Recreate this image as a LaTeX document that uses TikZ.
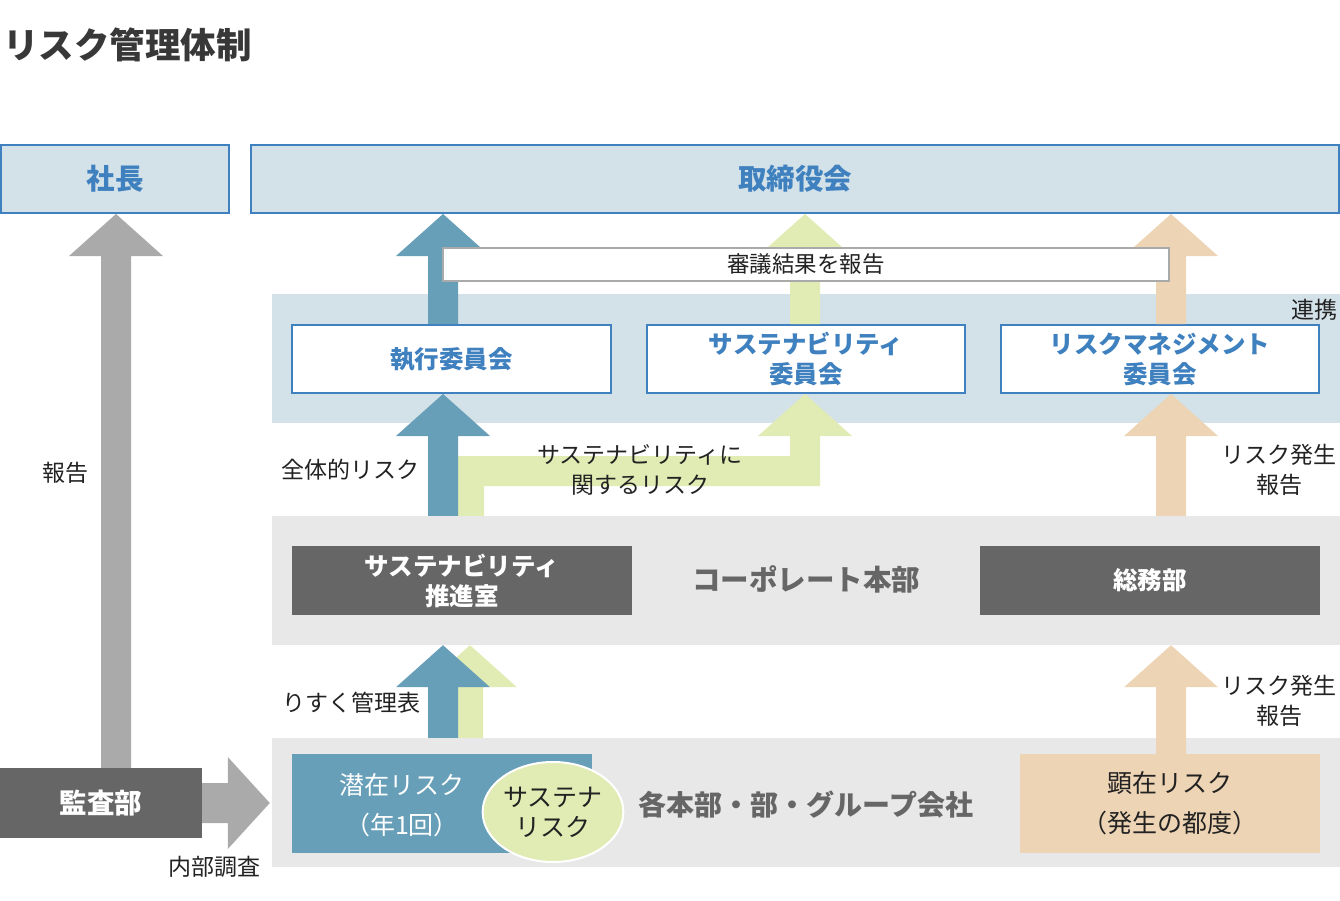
\documentclass[tikz,border=0pt]{standalone}
\usepackage{fontspec}
\setmainfont{Noto Sans CJK JP}
\usetikzlibrary{calc,shapes.geometric}

\definecolor{paleblue}{HTML}{D3E1E8}
\definecolor{boxblue}{HTML}{3F80BF}
\definecolor{steelblue}{HTML}{679EB8}
\definecolor{palegreen}{HTML}{E1EBB4}
\definecolor{sandtan}{HTML}{EDD4B4}
\definecolor{midgray}{HTML}{AAAAAA}
\definecolor{darkunit}{HTML}{666666}
\definecolor{bandgray}{HTML}{E8E8E8}
\definecolor{inktext}{HTML}{222222}

\tikzset{
  topbox/.style={draw=boxblue, line width=2pt, fill=paleblue, text=boxblue,
    inner sep=0pt, font=\fontsize{28.5}{32}\selectfont\bfseries},
  combox/.style={draw=boxblue, line width=2pt, fill=white, text=boxblue,
    inner sep=0pt, align=center, font=\fontsize{24.5}{30}\selectfont\bfseries},
  band/.style={inner sep=0pt},
  unitbox/.style={fill=darkunit, text=white, inner sep=0pt, align=center,
    font=\fontsize{24.5}{30}\selectfont\bfseries},
  lbl/.style={text=inktext, inner sep=0pt, align=center,
    font=\fontsize{23}{30}\selectfont},
  bigname/.style={text=darkunit, inner sep=0pt,
    font=\fontsize{28}{32}\selectfont\bfseries}
}

\newcommand\uparr[4]{%
  \fill[#1] let \p1=(#2), \p2=(#3) in
    (\x1-#4pt,\y1) -- (\x1-#4pt,\y2-42pt) -- (\x1-47pt,\y2-42pt) -- (\x1,\y2)
    -- (\x1+47pt,\y2-42pt) -- (\x1+#4pt,\y2-42pt) -- (\x1+#4pt,\y1) -- cycle;}

\begin{document}
\begin{tikzpicture}[x=1pt,y=-1pt]
  \useasboundingbox (0,0) rectangle (1340,900);

  \node[anchor=west, text=inktext!90, inner sep=0pt,
    font=\fontsize{35.5}{40}\selectfont\bfseries] (title) at (3,45) {リスク管理体制};

  \node[topbox, minimum width=228, minimum height=68] (shacho) at (115,179) {社長};
  \node[topbox, minimum width=1088, minimum height=68] (board) at (795,179) {取締役会};

  \node[band, fill=paleblue, minimum width=1068, minimum height=129] (comband) at (806,358.5) {};
  \node[band, fill=bandgray, minimum width=1068, minimum height=129] (corpband) at (806,580.5) {};
  \node[band, fill=bandgray, minimum width=1068, minimum height=129] (botband) at (806,802.5) {};

  \node[unitbox, minimum width=202, minimum height=70,
    font=\fontsize{27.5}{30}\selectfont\bfseries] (audit) at (101,803) {監査部};

  \uparr{midgray}{116,0 |- audit.north}{116,0 |- shacho.south}{15}
  \fill[midgray] let \p1=(audit.east), \p2=(botband.west) in
    (\x1,\y1-20pt) -- (\x2-44pt,\y1-20pt) -- (\x2-44pt,\y1-46pt) -- (\x2-2pt,\y1)
    -- (\x2-44pt,\y1+46pt) -- (\x2-44pt,\y1+20pt) -- (\x1,\y1+20pt) -- cycle;

  \node[combox, minimum width=319, minimum height=68] (exec) at (451.5,359) {執行委員会};
  \node[combox, minimum width=318, minimum height=68] (susc) at (806,359) {サステナビリティ\\委員会};
  \node[combox, minimum width=318, minimum height=68] (riskc) at (1160,359) {リスクマネジメント\\委員会};

  \uparr{steelblue}{443,0 |- exec.north}{443,0 |- board.south}{15}
  \uparr{palegreen}{805,0 |- susc.north}{805,0 |- board.south}{15}
  \uparr{sandtan}{1171,0 |- riskc.north}{1171,0 |- board.south}{15}

  \node[draw=midgray, line width=2pt, fill=white, inner sep=0pt,
    minimum width=726, minimum height=33, text=inktext,
    font=\fontsize{22.5}{26}\selectfont] (shingi) at (806,264.5) {審議結果を報告};
  \node[lbl, anchor=east] (renkei) at (1338,310) {連携};

  \coordinate (gfoot) at (471,0 |- corpband.north);
  \coordinate (gtip) at (805,0 |- susc.south);
  \fill[palegreen] ($(gfoot)+(-13,0)$) |- ($(gtip)+(-15,62)$) -- ($(gtip)+(-15,42)$)
    -- ($(gtip)+(-47,42)$) -- (gtip) -- ($(gtip)+(47,42)$) -- ($(gtip)+(15,42)$)
    -- ($(gtip)+(15,92)$) -| ($(gfoot)+(13,0)$) -- cycle;
  \uparr{steelblue}{443,0 |- corpband.north}{443,0 |- exec.south}{15}
  \uparr{sandtan}{1171,0 |- corpband.north}{1171,0 |- riskc.south}{15}

  \node[lbl] (zentai) at (350,470) {全体的リスク};
  \node[lbl] (susrisk) at (640,470) {サステナビリティに\\関するリスク};
  \node[lbl] (hassei1) at (1279,470) {リスク発生\\報告};

  \node[unitbox, minimum width=340, minimum height=69] (suishin) at (462,580.5) {サステナビリティ\\推進室};
  \node[bigname, font=\fontsize{28.5}{32}\selectfont\bfseries] (corp) at (806,579) {コーポレート本部};
  \node[unitbox, minimum width=340, minimum height=69] (somu) at (1150,580.5) {総務部};

  \node[band, fill=sandtan, minimum width=300, minimum height=99] (kenzai) at (1170,803.5) {};
  \uparr{palegreen}{470,0 |- botband.north}{470,0 |- corpband.south}{13}
  \uparr{steelblue}{443,0 |- botband.north}{443,0 |- corpband.south}{15}
  \uparr{sandtan}{1171,0 |- kenzai.north}{1171,0 |- corpband.south}{15}

  \node[lbl] (risuku) at (351,703) {りすく管理表};
  \node[lbl] (hassei2) at (1279,701) {リスク発生\\報告};

  \node[band, fill=steelblue, minimum width=300, minimum height=99] (senzai) at (442,803.5) {};
  \node[text=white, align=center, inner sep=0pt,
    font=\fontsize{25}{40}\selectfont] (senzaitext) at (402,805) {潜在リスク\\（年1回）};
  \node[ellipse, draw=white, line width=2pt, fill=palegreen, inner sep=0pt,
    minimum width=140, minimum height=100, align=center, text=inktext,
    font=\fontsize{25}{30}\selectfont] (susrisk2) at (553,812) {サステナ\\リスク};
  \node[bigname] (kaku) at (806,805) {各本部・部・グループ会社};
  \node[text=inktext, align=center, inner sep=0pt,
    font=\fontsize{25}{40}\selectfont] (kenzaitext) at (kenzai) {顕在リスク\\（発生の都度）};

  \node[lbl] (houkoku) at (65,473) {報告};
  \node[lbl] (naibu) at (214,867) {内部調査};
\end{tikzpicture}
\end{document}
